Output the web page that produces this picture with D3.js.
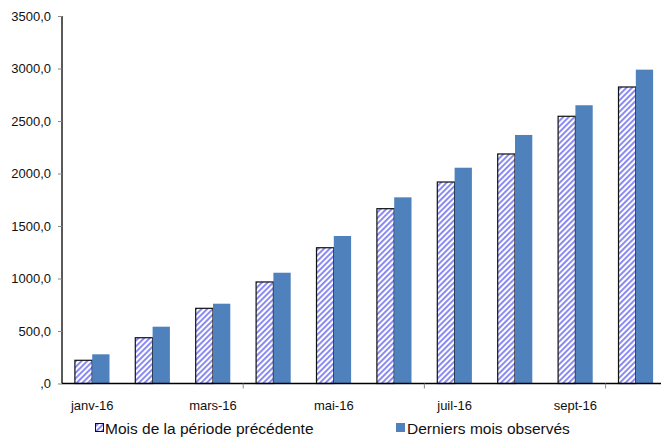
<!DOCTYPE html>
<html><head><meta charset="utf-8">
<script src="https://cdn.jsdelivr.net/npm/d3@7"></script>
<style>
html,body{margin:0;padding:0;background:#fff;}
svg{display:block;font-family:"Liberation Sans",Arial,sans-serif;}
</style></head>
<body>
<svg id="c" width="661" height="437"></svg>
<script>
const categories = ["janv-16","févr-16","mars-16","avr-16","mai-16","juin-16","juil-16","août-16","sept-16","oct-16"];
const previousPeriod = [221, 436, 716, 967, 1293, 1665, 1919, 2186, 2545, 2824];
const lastObserved   = [278, 541, 760, 1055, 1405, 1773, 2055, 2367, 2650, 2989];
const yTicks = [0, 500, 1000, 1500, 2000, 2500, 3000, 3500];
const xLabelCats = ["janv-16","mars-16","mai-16","juil-16","sept-16"];
const seriesNames = ["Mois de la période précédente","Derniers mois observés"];

(function(){
const svg = d3.select("#c");
const mLeft = 62, mRight = 666, mTop = 16, mBottom = 383.5;

const defs = svg.append("defs");
const pat = defs.append("pattern").attr("id","hatch").attr("patternUnits","userSpaceOnUse")
  .attr("width",4).attr("height",4).attr("patternTransform","rotate(45)");
pat.append("rect").attr("width",4).attr("height",4).attr("fill","#fff");
pat.append("rect").attr("x",0).attr("width",1.9).attr("height",4).attr("fill","#8585f2");

const x = d3.scaleBand().domain(categories).range([mLeft, mRight]).paddingInner(0).paddingOuter(0);
const y = d3.scaleLinear().domain([0, 3500]).range([mBottom, mTop]);
const barW = 17.3;

const fmt = v => v === 0 ? ",0" : d3.format(".1f")(v).replace(".", ",");

// y axis
const yAxis = svg.append("g").attr("transform",`translate(${mLeft},0)`)
  .call(d3.axisLeft(y).tickValues(yTicks).tickFormat(fmt).tickSize(4).tickPadding(7));
yAxis.select(".domain").attr("stroke","#000").attr("stroke-width",1.3).attr("d",`M0,${mTop}V${mBottom}`);
yAxis.selectAll(".tick line").attr("stroke","#888");
yAxis.selectAll("text").attr("font-size","13px").attr("fill","#111")
  .attr("font-family","'Liberation Sans',Arial,sans-serif");

// bars
const g = svg.append("g");
g.selectAll(".prev").data(categories).join("rect")
  .attr("x", (d) => x(d) + x.bandwidth()/2 - barW)
  .attr("width", barW)
  .attr("y", (d,i) => y(previousPeriod[i]))
  .attr("height", (d,i) => y(0) - y(previousPeriod[i]))
  .attr("fill","url(#hatch)").attr("stroke","#111").attr("stroke-width",1.2);
g.selectAll(".last").data(categories).join("rect")
  .attr("x", (d) => x(d) + x.bandwidth()/2)
  .attr("width", barW)
  .attr("y", (d,i) => y(lastObserved[i]))
  .attr("height", (d,i) => y(0) - y(lastObserved[i]))
  .attr("fill","#4f81bd");

// x axis
svg.append("line").attr("x1",mLeft).attr("x2",661).attr("y1",mBottom).attr("y2",mBottom)
  .attr("stroke","#000").attr("stroke-width",1.3);
[3,6,9].forEach(k => {
  const xx = x(categories[k]);
  svg.append("line").attr("x1",xx).attr("x2",xx).attr("y1",mBottom).attr("y2",mBottom+5).attr("stroke","#888");
});
svg.append("g").selectAll("text").data(xLabelCats).join("text")
  .attr("x", d => x(d) + x.bandwidth()/2)
  .attr("y", 410)
  .attr("text-anchor","middle").attr("font-size","13px").attr("fill","#111")
  .text(d => d);

// legend
const lg = svg.append("g");
lg.append("rect").attr("x",95.5).attr("y",423.5).attr("width",8).attr("height",8)
  .attr("fill","url(#hatch)").attr("stroke","#111").attr("stroke-width",1);
lg.append("text").attr("x",105).attr("y",434).attr("font-size","15.5px").attr("fill","#111").text(seriesNames[0]);
lg.append("rect").attr("x",396).attr("y",423).attr("width",9).attr("height",9).attr("fill","#4f81bd");
lg.append("text").attr("x",407).attr("y",434).attr("font-size","15.5px").attr("fill","#111").text(seriesNames[1]);
})();
</script>
</body></html>
